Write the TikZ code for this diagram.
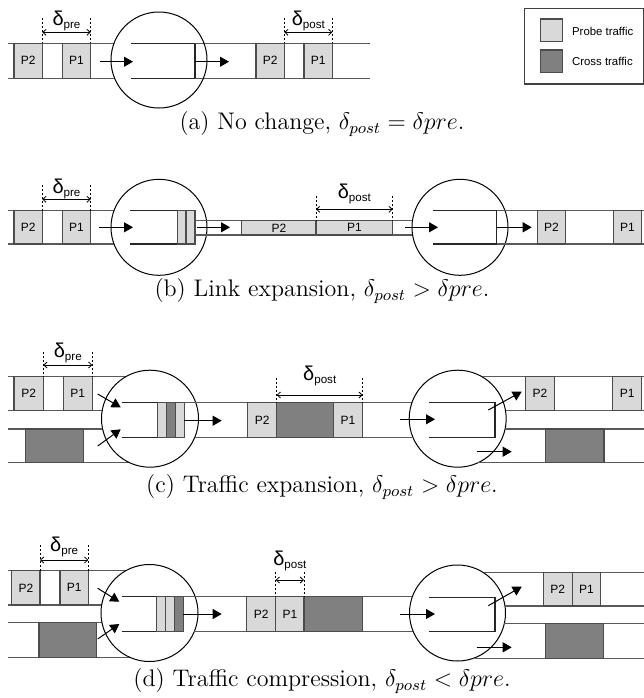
\documentclass[tikz,border=0pt]{standalone}
\usepackage{fontspec}
\newfontfamily\lab{Liberation Sans}
\usetikzlibrary{arrows.meta}
\definecolor{probe}{HTML}{D9D9D9}
\definecolor{cross}{HTML}{808080}
\tikzset{
  link/.style={draw=black!65, line width=0.55pt},
  qline/.style={draw=black!85, line width=0.55pt},
  router/.style={draw=black, line width=0.5pt},
  flow/.style={draw=black, line width=0.5pt, -{Triangle[length=4.5pt,width=5pt]}},
  probebox/.style={fill=probe, draw=black!70, line width=0.55pt},
  crossbox/.style={fill=cross, draw=black!70, line width=0.55pt},
  plab/.style={font=\lab\fontsize{6}{6}\selectfont, inner sep=0pt},
  legtext/.style={font=\lab\fontsize{5.7}{6}\selectfont, inner sep=0pt, anchor=west},
  dimline/.style={draw=black, line width=0.4pt, dash pattern=on 1pt off 1pt},
  dimarrow/.style={draw=black, line width=0.4pt, {Straight Barb[length=1.6pt,width=3pt]}-{Straight Barb[length=1.6pt,width=3pt]}},
  captext/.style={font=\fontsize{12}{14}\selectfont, inner sep=0pt},
  dlabel/.style={inner sep=0pt}
}
\newcommand{\dlab}[1]{{\lab\fontsize{10}{10}\selectfont δ\raisebox{-1.5pt}{\fontsize{5.8}{6}\selectfont #1}}}
\newcommand{\pkt}[7]{\draw[#5] (#1,#3) rectangle (#2,#4); \node[plab] (#7) at ({(#1+#2)/2},{(#3+#4)/2}) {#6};}
\newcommand{\dimspan}[8]{%
  \draw[dimline] (#1,#3) -- (#1,#4); \draw[dimline] (#2,#3) -- (#2,#4);
  \draw[dimarrow] (#1,#5) -- (#2,#5);
  \node[dlabel] (#8) at ({(#1+#2)/2},#6) {\dlab{#7}};}
\begin{document}
\begin{tikzpicture}[x=0.5pt,y=-0.5pt]
\useasboundingbox (0,0) rectangle (644,698);

% ---------------- (a)
\draw[link] (8,43.3) -- (114,43.3); \draw[link] (8,78.3) -- (114.6,78.3);
\draw[qline] (131,43.3) -- (195,43.3) -- (195,78.3) -- (131,78.3);
\draw[link] (195,43.3) -- (370,43.3); \draw[link] (195,78.3) -- (370,78.3);
\draw[router] (159,60) circle[radius=24pt];
\draw[flow] (100,61.7) -- (133,61.7);
\draw[flow] (195,61.7) -- (229,61.7);
\pkt{14}{42.3}{43.3}{78.3}{probebox}{P2}{a1}
\pkt{62.3}{90.7}{43.3}{78.3}{probebox}{P1}{a2}
\pkt{256}{284.3}{43.3}{78.3}{probebox}{P2}{a3}
\pkt{304}{332.3}{43.3}{78.3}{probebox}{P1}{a4}
\dimspan{42.3}{90.7}{18}{43.3}{32.3}{21}{pre}{da1}
\dimspan{284.3}{332.3}{18}{43.3}{32.3}{21}{post}{da2}

% legend
\draw[draw=black!75, line width=0.55pt] (524.3,8.3) rectangle (643.5,84);
\draw[probebox] (540.7,19) rectangle (562.7,41.7);
\draw[crossbox] (540.7,50) rectangle (562.7,72.7);
\node[legtext] (lg1) at (571.7,31) {Probe traffic};
\node[legtext] (lg2) at (571.7,61.5) {Cross traffic};

\node[captext] (capa) at (322,124) {(a) No change, $\delta_{post} = \delta pre$.};

% ---------------- (b)
\draw[link] (8,210.7) -- (114,210.7); \draw[link] (8,244) -- (114,244);
\draw[router] (159,227.3) circle[radius=24pt];
\draw[flow] (99,227.3) -- (133,227.3);
\draw[qline] (130,210.7) -- (195,210.7) -- (195,244) -- (130,244);
\draw[probebox] (177.3,210.7) rectangle (186,244);
\draw[probebox] (186,210.7) rectangle (195,244);
\draw[link] (195,220.7) -- (412.5,220.7); \draw[link] (195,235) -- (412.5,235);
\draw[flow] (197,227.3) -- (230,227.3);
\pkt{241.7}{316}{220.7}{235}{probebox}{P2}{b3}
\pkt{316}{392.7}{220.7}{235}{probebox}{P1}{b4}
\pkt{14}{42.3}{210.7}{244}{probebox}{P2}{b1}
\pkt{62.3}{90.7}{210.7}{244}{probebox}{P1}{b2}
\dimspan{42.3}{90.7}{185}{210.7}{199.3}{189}{pre}{db1}
\dimspan{316}{392.7}{196}{220.7}{209.3}{194}{post}{db2}
\draw[router] (460,227.3) circle[radius=24pt];
\draw[flow] (405,227.3) -- (438,227.3);
\draw[qline] (432.7,210.7) -- (496.7,210.7) -- (496.7,244) -- (432.7,244);
\draw[link] (496.7,210.7) -- (644,210.7); \draw[link] (496.7,244) -- (644,244);
\draw[flow] (496.7,227.3) -- (531.7,227.3);
\pkt{537.3}{565.7}{210.7}{244}{probebox}{P2}{b5}
\pkt{613.3}{641.7}{210.7}{244}{probebox}{P1}{b6}

\node[captext] (capb) at (322,291) {(b) Link expansion, $\delta_{post} > \delta pre$.};

% ---------------- (c)
\draw[link] (8,376.7) -- (125.8,376.7); \draw[link] (8,410.7) -- (102,410.7);
\draw[link] (8,429) -- (102.6,429); \draw[link] (8,462.7) -- (129.6,462.7);
\pkt{14}{43.3}{376.7}{410.7}{probebox}{P2}{c1}
\pkt{63.3}{92.3}{376.7}{410.7}{probebox}{P1}{c2}
\draw[crossbox] (25.7,429) rectangle (83.3,462.7);
\dimspan{43.3}{92.3}{351.5}{376.7}{365}{353}{pre}{dc1}
\draw[router] (150,418.7) circle[radius=24.25pt];
\draw[flow] (97.7,394) -- (120.7,407.3);
\draw[flow] (97.7,446) -- (120.7,429.3);
\draw[qline] (121.7,402.7) -- (184.3,402.7); \draw[qline] (121.7,437.7) -- (184.3,437.7);
\draw[probebox] (157.3,402.7) rectangle (166.7,437.7);
\draw[crossbox] (166.7,402.7) rectangle (175.7,437.7);
\draw[probebox] (175.7,402.7) rectangle (184.3,437.7);
\draw[link] (184.3,402.7) -- (411.9,402.7); \draw[link] (194.6,437.7) -- (411.9,437.7);
\draw[flow] (184.3,420.7) -- (221.7,420.7);
\pkt{247.7}{276.7}{402.7}{437.7}{probebox}{P2}{c3}
\draw[crossbox] (276.7,402.7) rectangle (333.3,437.7);
\pkt{333.3}{362.7}{402.7}{437.7}{probebox}{P1}{c4}
\dimspan{276.7}{362.7}{378}{402.7}{395}{376}{post}{dc2}
\draw[router] (457.7,418.7) circle[radius=24.25pt];
\draw[flow] (400,419.3) -- (435,419.3);
\draw[qline] (429.3,402.7) -- (495,402.7) -- (495,437.7) -- (429.3,437.7);
\draw[link] (481.9,376.7) -- (644,376.7); \draw[link] (505.5,410.7) -- (644,410.7);
\draw[link] (505.1,429) -- (644,429); \draw[link] (478.1,462.7) -- (644,462.7);
\draw[flow] (488.3,410) -- (521.7,391.7);
\draw[flow] (476.7,451.7) -- (511.7,451.7);
\pkt{525.7}{554.3}{376.7}{410.7}{probebox}{P2}{c5}
\pkt{612.7}{641.7}{376.7}{410.7}{probebox}{P1}{c6}
\draw[crossbox] (545.7,429) rectangle (604,462.7);

\node[captext] (capc) at (322,487) {(c) Traffic expansion, $\delta_{post} > \delta pre$.};

% ---------------- (d)
\draw[link] (8,570.7) -- (125.8,570.7); \draw[link] (8,605) -- (101.7,605);
\draw[link] (8,622.3) -- (101.9,622.3); \draw[link] (8,657.3) -- (129.8,657.3);
\pkt{11.7}{40}{570.7}{605}{probebox}{P2}{d1}
\pkt{60}{88.3}{570.7}{605}{probebox}{P1}{d2}
\draw[crossbox] (39,622.3) rectangle (96.7,657.3);
\dimspan{40}{88.3}{545}{570.7}{560}{547}{pre}{dd1}
\draw[router] (149.5,613) circle[radius=24.25pt];
\draw[flow] (97.7,588.3) -- (119.3,601.7);
\draw[flow] (97.7,639) -- (119.3,624);
\draw[qline] (121.7,596.7) -- (183.3,596.7); \draw[qline] (121.7,631.3) -- (183.3,631.3);
\draw[probebox] (156.7,596.7) rectangle (165.7,631.3);
\draw[probebox] (165.7,596.7) rectangle (174.3,631.3);
\draw[crossbox] (174.3,596.7) rectangle (183.3,631.3);
\draw[link] (183.3,596.7) -- (412.2,596.7); \draw[link] (194.3,631.5) -- (413.2,631.5);
\draw[flow] (183.3,614) -- (221.7,614);
\pkt{246.7}{275.7}{596.7}{631.5}{probebox}{P2}{d3}
\pkt{275.7}{304}{596.7}{631.5}{probebox}{P1}{d4}
\draw[crossbox] (304,596.7) rectangle (362.7,631.5);
\dimspan{275.7}{304}{572}{596.7}{580}{561}{post}{dd2}
\draw[router] (457.5,613) circle[radius=24pt];
\draw[flow] (400,614) -- (435,614);
\draw[qline] (429.3,597.3) -- (495,597.3) -- (495,631.7) -- (429.3,631.7);
\draw[link] (483.6,572.3) -- (644,572.3); \draw[link] (505,606) -- (644,606);
\draw[link] (504.4,623.3) -- (644,623.3); \draw[link] (474.6,658.3) -- (644,658.3);
\draw[flow] (488.3,605.7) -- (521.7,586.7);
\draw[flow] (476.7,647.3) -- (511.7,647.3);
\pkt{543.3}{572.3}{572.3}{606}{probebox}{P2}{d5}
\pkt{572.3}{600.7}{572.3}{606}{probebox}{P1}{d6}
\draw[crossbox] (545.7,623.3) rectangle (603.3,658.3);

\node[captext] (capd) at (322,681) {(d) Traffic compression, $\delta_{post} < \delta pre$.};
\end{tikzpicture}
\end{document}
